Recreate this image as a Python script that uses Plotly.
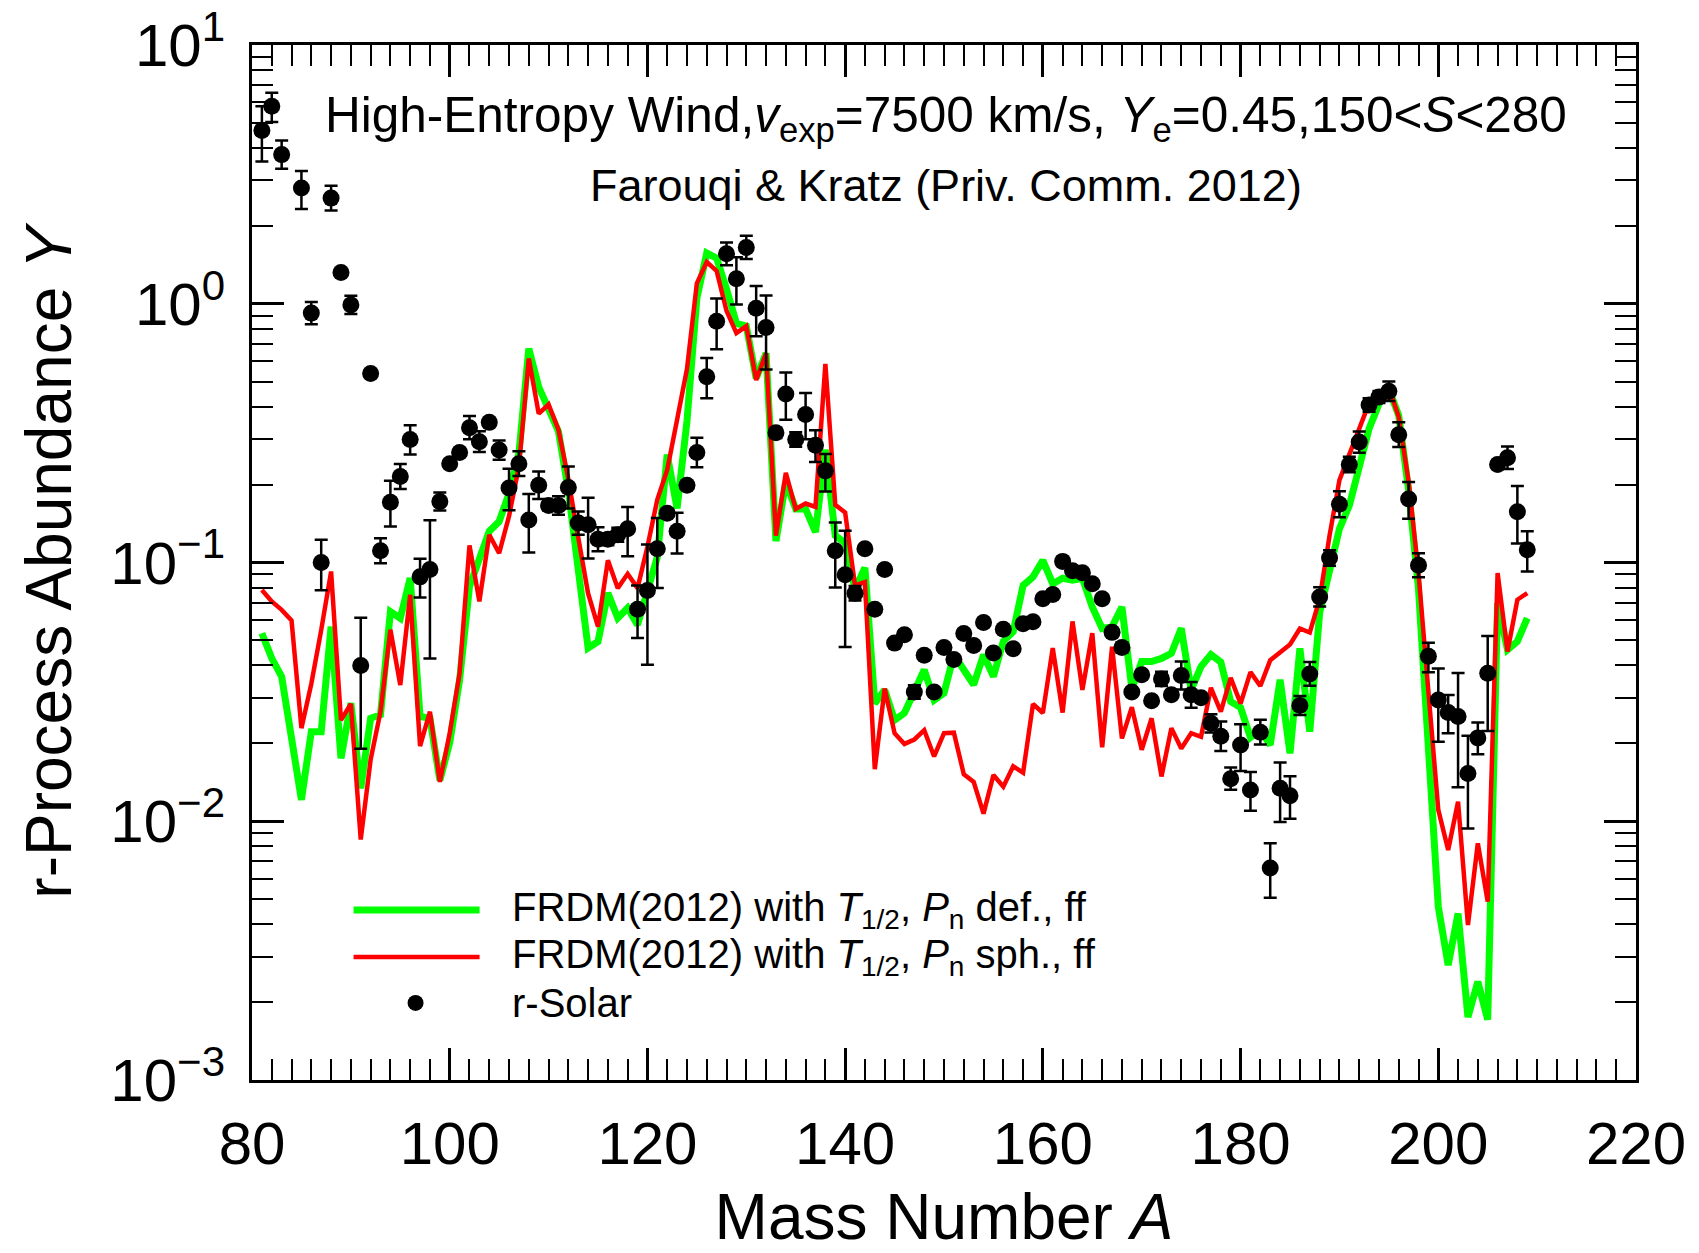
import plotly.graph_objects as go

# ---------------- data ----------------
model_A = list(range(81, 210))

frdm_def = [
    0.0533, 0.0426, 0.0362, 0.0212, 0.0121, 0.0222, 0.0222, 0.0565, 0.0175, 0.0286,   # 81-90
    0.0134, 0.025, 0.0258, 0.0646, 0.0609, 0.0871, 0.0254, 0.025, 0.0144, 0.0201,     # 91-100
    0.0352, 0.0807, 0.105, 0.132, 0.144, 0.185, 0.265, 0.671, 0.477, 0.394,           # 101-110
    0.321, 0.19, 0.09, 0.0467, 0.0495, 0.0762, 0.061, 0.0667, 0.0574, 0.0783,        # 111-120
    0.105, 0.261, 0.162, 0.352, 1.05, 1.57, 1.50, 1.14, 0.84, 0.82,                  # 121-130
    0.515, 0.644, 0.121, 0.205, 0.161, 0.161, 0.131, 0.273, 0.127, 0.119,            # 131-140
    0.0789, 0.0955, 0.0285, 0.0322, 0.0246, 0.0262, 0.0317, 0.0385, 0.0294, 0.0313,  # 141-150
    0.044, 0.0385, 0.0337, 0.044, 0.0362, 0.0496, 0.054, 0.0815, 0.088, 0.102,       # 151-160
    0.0828, 0.0869, 0.0855, 0.0869, 0.0673, 0.0556, 0.0565, 0.0673, 0.0326, 0.0414,  # 161-170
    0.0414, 0.0426, 0.0446, 0.0557, 0.0322, 0.0396, 0.0441, 0.0412, 0.029, 0.0275,   # 171-180
    0.0211, 0.0226, 0.0197, 0.0352, 0.0183, 0.0466, 0.0222, 0.064, 0.094, 0.135,     # 181-190
    0.166, 0.239, 0.329, 0.41, 0.468, 0.37, 0.19, 0.079, 0.0178, 0.00468,            # 191-200
    0.00278, 0.0044, 0.00175, 0.0024, 0.00171, 0.0697, 0.046, 0.0496, 0.061,         # 201-209
]

frdm_sph = [
    0.0783, 0.0707, 0.0656, 0.0597, 0.0229, 0.034, 0.0548, 0.0923, 0.0246, 0.0284,   # 81-90
    0.0085, 0.0173, 0.0265, 0.055, 0.0336, 0.075, 0.0195, 0.0265, 0.0142, 0.0219,    # 91-100
    0.0373, 0.1164, 0.0707, 0.128, 0.1086, 0.151, 0.235, 0.615, 0.376, 0.408,        # 101-110
    0.326, 0.21, 0.125, 0.0759, 0.0565, 0.102, 0.0796, 0.0904, 0.0796, 0.115,        # 111-120
    0.175, 0.228, 0.356, 0.56, 1.2, 1.45, 1.34, 0.94, 0.77, 0.82,                    # 121-130
    0.507, 0.644, 0.127, 0.222, 0.161, 0.169, 0.164, 0.585, 0.167, 0.156,            # 131-140
    0.0815, 0.084, 0.0159, 0.0326, 0.0219, 0.0199, 0.0207, 0.0225, 0.0178, 0.0219,   # 141-150
    0.022, 0.0152, 0.0142, 0.0107, 0.0151, 0.0136, 0.0163, 0.0154, 0.0284, 0.0262,   # 151-160
    0.0467, 0.0263, 0.0592, 0.0322, 0.0533, 0.0193, 0.0473, 0.0209, 0.0276, 0.0189,  # 161-170
    0.025, 0.0149, 0.0229, 0.0191, 0.0219, 0.0212, 0.0328, 0.0265, 0.0358, 0.0285,   # 171-180
    0.0377, 0.0333, 0.0419, 0.045, 0.0482, 0.0556, 0.0536, 0.0723, 0.127, 0.208,     # 181-190
    0.261, 0.334, 0.413, 0.451, 0.475, 0.365, 0.205, 0.091, 0.0316, 0.01107,         # 191-200
    0.00774, 0.0119, 0.00397, 0.00822, 0.00489, 0.091, 0.0453, 0.0718, 0.0762,       # 201-209
]

solar_A = [81, 82, 83, 85, 86, 87, 88, 89, 90, 91, 92, 93, 94, 95, 96, 97, 98, 99, 100,
           101, 102, 103, 104, 105, 106, 107, 108, 109, 110, 111, 112, 113, 114, 115, 116,
           117, 118, 119, 120, 121, 122, 123, 124, 125, 126, 127, 128, 129, 130, 131, 132,
           133, 134, 135, 136, 137, 138, 139, 140, 141, 142, 143, 144, 145, 146, 147, 148,
           149, 150, 151, 152, 153, 154, 155, 156, 157, 158, 159, 160, 161, 162, 163, 164,
           165, 166, 167, 168, 169, 170, 171, 172, 173, 174, 175, 176, 177, 178, 179, 180,
           181, 182, 183, 184, 185, 186, 187, 188, 189, 190, 191, 192, 193, 194, 195, 196,
           197, 198, 199, 200, 201, 202, 203, 204, 205, 206, 207, 208, 209]

solar_Y = [4.67, 5.8, 3.77, 2.8, 0.92, 0.10, 2.56, 1.32, 0.99, 0.040, 0.538, 0.111, 0.171,
           0.215, 0.299, 0.088, 0.094, 0.172, 0.241,
           0.266, 0.332, 0.293, 0.348, 0.272, 0.194, 0.241, 0.146, 0.199, 0.166, 0.166,
           0.195, 0.142, 0.14, 0.123, 0.123,
           0.128, 0.135, 0.066, 0.078, 0.113, 0.155, 0.132, 0.199, 0.266, 0.522, 0.855,
           1.56, 1.25, 1.65, 0.96, 0.81,
           0.317, 0.448, 0.299, 0.373, 0.284, 0.226, 0.111, 0.0896, 0.076, 0.113, 0.066,
           0.094, 0.0488, 0.0526, 0.0316, 0.0438,
           0.0316, 0.0469, 0.0422, 0.0532, 0.0478, 0.0586, 0.0447, 0.0552, 0.0464, 0.058,
           0.059, 0.0724, 0.0752, 0.101, 0.093, 0.0913,
           0.0828, 0.0724, 0.0537, 0.0469, 0.0316, 0.0368, 0.0292, 0.0355, 0.0308, 0.0366,
           0.0308, 0.030, 0.0239, 0.0213, 0.0146, 0.0197,
           0.0132, 0.0221, 0.0066, 0.0134, 0.01256, 0.028, 0.0371, 0.0736, 0.104, 0.168,
           0.239, 0.292, 0.406, 0.436, 0.459, 0.312,
           0.176, 0.0976, 0.0434, 0.0294, 0.0263, 0.0254, 0.0153, 0.021, 0.0373, 0.239,
           0.254, 0.157, 0.112]

# error bars in dex (log10 units), upper / lower
solar_err_up_dex = [0.094, 0.052, 0.055, 0.066, 0.043, 0.088, 0.048, 0.0, 0.035, 0.184, 0.0,
                    0.048, 0.083, 0.048, 0.055, 0.07, 0.19, 0.035, 0.0,
                    0.015, 0.045, 0.04, 0.0, 0.037, 0.075, 0.048, 0.1, 0.053, 0.019, 0.036,
                    0.081, 0.045, 0.104, 0.046, 0.023,
                    0.027, 0.084, 0.092, 0.177, 0.119, 0.0, 0.072, 0.0, 0.057, 0.073, 0.088,
                    0.044, 0.083, 0.045, 0.086, 0.123,
                    0.02, 0.083, 0.028, 0.083, 0.058, 0.065, 0.109, 0.17, 0.028, 0.0, 0.0,
                    0.0, 0.0, 0.0, 0.026, 0.0,
                    0.0, 0.0, 0.0, 0.0, 0.0, 0.0, 0.0, 0.0, 0.0, 0.0,
                    0.0, 0.0, 0.0, 0.0, 0.0, 0.0,
                    0.0, 0.0, 0.0, 0.02, 0.0, 0.015, 0.0, 0.028, 0.0, 0.054,
                    0.05, 0.0, 0.035, 0.057, 0.043, 0.08,
                    0.07, 0.048, 0.095, 0.1, 0.075, 0.037, 0.046, 0.037, 0.03, 0.05,
                    0.03, 0.041, 0.026, 0.023, 0.038, 0.048,
                    0.066, 0.046, 0.052, 0.122, 0.068, 0.168, 0.146, 0.059, 0.144, 0.015,
                    0.043, 0.1, 0.072]

solar_err_dn_dex = [0.12, 0.061, 0.055, 0.081, 0.043, 0.107, 0.048, 0.0, 0.035, 0.322, 0.0,
                    0.048, 0.094, 0.048, 0.058, 0.08, 0.344, 0.035, 0.0,
                    0.015, 0.045, 0.04, 0.0, 0.037, 0.086, 0.048, 0.126, 0.053, 0.019, 0.036,
                    0.081, 0.045, 0.131, 0.046, 0.023,
                    0.027, 0.106, 0.111, 0.287, 0.152, 0.0, 0.086, 0.0, 0.057, 0.083, 0.108,
                    0.044, 0.1, 0.045, 0.108, 0.163,
                    0.02, 0.1, 0.028, 0.095, 0.065, 0.08, 0.142, 0.279, 0.028, 0.0, 0.0,
                    0.0, 0.0, 0.0, 0.026, 0.0,
                    0.0, 0.0, 0.0, 0.0, 0.0, 0.0, 0.0, 0.0, 0.0, 0.0,
                    0.0, 0.0, 0.0, 0.0, 0.0, 0.0,
                    0.0, 0.0, 0.0, 0.02, 0.0, 0.015, 0.0, 0.028, 0.0, 0.054,
                    0.05, 0.0, 0.035, 0.057, 0.043, 0.1,
                    0.08, 0.048, 0.115, 0.13, 0.089, 0.037, 0.046, 0.037, 0.03, 0.05,
                    0.03, 0.041, 0.026, 0.023, 0.038, 0.048,
                    0.076, 0.046, 0.062, 0.161, 0.08, 0.273, 0.213, 0.063, 0.223, 0.015,
                    0.043, 0.122, 0.084]

x_ticks = [80, 100, 120, 140, 160, 180, 200, 220]
y_ticks = [1e-3, 1e-2, 1e-1, 1e0, 1e1]
y_ticktext = ["10<sup>\u22123</sup>", "10<sup>\u22122</sup>", "10<sup>\u22121</sup>",
              "10<sup>0</sup>", "10<sup>1</sup>"]
y_minor = [k * 10.0 ** e for e in (-3, -2, -1, 0) for k in range(2, 10)]

label_def = "FRDM(2012) with <i>T</i><sub>1/2</sub>, <i>P</i><sub>n</sub> def., ff"
label_sph = "FRDM(2012) with <i>T</i><sub>1/2</sub>, <i>P</i><sub>n</sub> sph., ff"
label_sol = "r-Solar"
title1 = ("High-Entropy Wind,<i>v</i><sub>exp</sub>=7500 km/s, <i>Y</i><sub>e</sub>=0.45,"
          "150&lt;<i>S</i>&lt;280")
title2 = "Farouqi &amp; Kratz (Priv. Comm. 2012)"

# ---------------- figure ----------------
err_plus = [y * (10 ** u - 1) for y, u in zip(solar_Y, solar_err_up_dex)]
err_minus = [y * (1 - 10 ** (-d)) for y, d in zip(solar_Y, solar_err_dn_dex)]

GREEN = "#00ff00"
RED = "#ff0000"
FONT = "Liberation Sans, Arial, Helvetica, sans-serif"

fig = go.Figure()
fig.add_trace(go.Scatter(x=model_A, y=frdm_def, mode="lines", name=label_def,
                         line=dict(color=GREEN, width=7)))
fig.add_trace(go.Scatter(x=model_A, y=frdm_sph, mode="lines", name=label_sph,
                         line=dict(color=RED, width=4.5)))
fig.add_trace(go.Scatter(x=solar_A, y=solar_Y, mode="markers", name=label_sol,
                         marker=dict(color="black", size=17),
                         error_y=dict(type="data", symmetric=False, array=err_plus,
                                      arrayminus=err_minus, color="black",
                                      thickness=2.5, width=6.5)))

axis_common = dict(
    showline=True, linewidth=3, linecolor="black", mirror="allticks",
    ticks="inside", ticklen=32, tickwidth=2.5, tickcolor="black",
    showgrid=False, zeroline=False,
    tickfont=dict(size=60, family=FONT, color="black"),
)

fig.update_xaxes(range=[80, 220], tickvals=x_ticks,
                 minor=dict(dtick=2, tick0=80, ticks="inside", ticklen=21, tickwidth=2,
                            tickcolor="black", showgrid=False),
                 title=dict(text="Mass Number <i>A</i>", font=dict(size=64, family=FONT),
                            standoff=33),
                 ticklabelstandoff=9,
                 **axis_common)
fig.update_yaxes(type="log", range=[-3, 1], tickvals=y_ticks, ticktext=y_ticktext,
                 minor=dict(tickvals=y_minor, ticks="inside", ticklen=21, tickwidth=2,
                            tickcolor="black", showgrid=False),
                 title=dict(text="r-Process Abundance <i>Y</i>", font=dict(size=64, family=FONT),
                            standoff=18),
                 ticklabelstandoff=12,
                 **axis_common)

# manual legend (long line samples as in the original)
def px_to_paper(px, py):
    return (px - 252.5) / 1383.5, (1080 - py) / 1034.5

shapes = []
annots = []
for (py, color, width, text) in [(910, GREEN, 7, label_def), (957, RED, 4.5, label_sph)]:
    x0, yp = px_to_paper(354, py)
    x1, _ = px_to_paper(480, py)
    shapes.append(dict(type="line", xref="paper", yref="paper", x0=x0, x1=x1, y0=yp, y1=yp,
                       line=dict(color=color, width=width)))
    tx, _ = px_to_paper(510, py)
    annots.append(dict(text=text, xref="paper", yref="paper", x=tx, y=yp, xanchor="left",
                       yanchor="middle", showarrow=False, font=dict(size=40, family=FONT)))
mx, my = px_to_paper(416, 1003)
shapes.append(dict(type="circle", xref="paper", yref="paper", xsizemode="pixel",
                   ysizemode="pixel", xanchor=mx, yanchor=my, x0=-8, x1=8, y0=-8, y1=8,
                   fillcolor="black", line=dict(color="black", width=0)))
tx, _ = px_to_paper(510, 1003)
annots.append(dict(text=label_sol, xref="paper", yref="paper", x=tx, y=my, xanchor="left",
                   yanchor="middle", showarrow=False, font=dict(size=40, family=FONT)))

t1x, t1y = px_to_paper(946, 118)
t2x, t2y = px_to_paper(946, 186)
annots.append(dict(text=title1, xref="paper", yref="paper", x=t1x, y=t1y, xanchor="center",
                   yanchor="middle", showarrow=False, font=dict(size=49.5, family=FONT)))
annots.append(dict(text=title2, xref="paper", yref="paper", x=t2x, y=t2y, xanchor="center",
                   yanchor="middle", showarrow=False, font=dict(size=45, family=FONT)))

fig.update_layout(
    width=1699, height=1253,
    margin=dict(l=252, r=63, t=45, b=173, autoexpand=False),
    plot_bgcolor="white", paper_bgcolor="white",
    showlegend=False,
    font=dict(family=FONT, color="black"),
    shapes=shapes, annotations=annots,
)

fig.write_html("out.html")
